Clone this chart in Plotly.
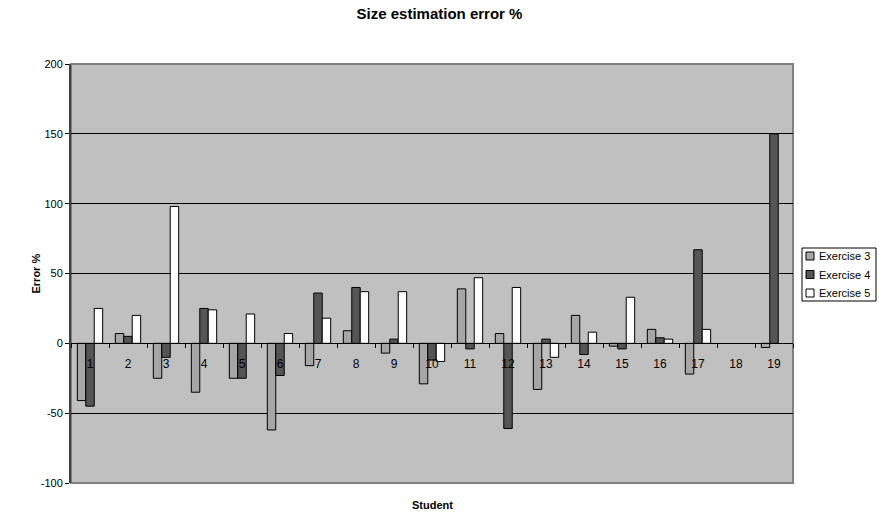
import plotly.graph_objects as go

students = [str(i) for i in range(1, 20)]
exercise_3 = [-41, 7, -25, -35, -25, -62, -16, 9, -7, -29, 39, 7, -33, 20, -2, 10, -22, None, -3]
exercise_4 = [-45, 5, -10, 25, -25, -23, 36, 40, 3, -12, -4, -61, 3, -8, -4, 4, 67, None, 150]
exercise_5 = [25, 20, 98, 24, 21, 7, 18, 37, 37, -13, 47, 40, -10, 8, 33, 3, 10, None, None]

y_ticks = [-100, -50, 0, 50, 100, 150, 200]
y_tick_labels = ["-100", "-50", "0", "50", "100", "150", "200"]

series = [
    ("Exercise 3", exercise_3, "#A6A6A6"),
    ("Exercise 4", exercise_4, "#555555"),
    ("Exercise 5", exercise_5, "#FFFFFF"),
]

y_min, y_max = y_ticks[0], y_ticks[-1]

W, H = 879, 515
ML, MR, MT, MB = 71, 86, 64, 32
plot_w, plot_h = W - ML - MR, H - MT - MB


def px_x(x):
    """Pixel column -> paper x."""
    return (x - ML) / plot_w


def px_y(y):
    """Pixel row -> paper y."""
    return (H - MB - y) / plot_h


fig = go.Figure()
for name, vals, color in series:
    fig.add_trace(go.Bar(
        x=students, y=vals, name=name, showlegend=False,
        marker=dict(color=color, line=dict(color="#000000", width=1)),
    ))

shapes = [dict(type="rect", xref="paper", yref="paper", x0=0, x1=1, y0=0, y1=1,
               line=dict(color="#808080", width=2), layer="below")]
annotations = [
    dict(text="<b>Student</b>", xref="paper", yref="paper",
         x=0.5, y=px_y(505), xanchor="center", yanchor="middle",
         showarrow=False, font=dict(size=11)),
    dict(text="<b>Error %</b>", xref="paper", yref="paper", textangle=-90,
         x=px_x(35), y=0.5, xanchor="center", yanchor="middle",
         showarrow=False, font=dict(size=11)),
]

# compact legend box to the right of the plot area
shapes.append(dict(type="rect", xref="paper", yref="paper",
                   x0=px_x(802), x1=px_x(876), y0=px_y(301), y1=px_y(248),
                   fillcolor="#FFFFFF", line=dict(color="#000000", width=1)))
for i, (name, _, color) in enumerate(series):
    cy = 256 + i * 18.5
    shapes.append(dict(type="rect", xref="paper", yref="paper",
                       x0=px_x(806), x1=px_x(814), y0=px_y(cy + 4), y1=px_y(cy - 4),
                       fillcolor=color, line=dict(color="#000000", width=1)))
    annotations.append(dict(text=name, xref="paper", yref="paper",
                            x=px_x(817), y=px_y(cy), xanchor="left", yanchor="middle",
                            showarrow=False, font=dict(size=11)))

fig.update_layout(
    width=W, height=H,
    margin=dict(l=ML, r=MR, t=MT, b=MB),
    paper_bgcolor="#FFFFFF",
    plot_bgcolor="#C0C0C0",
    font=dict(family="Liberation Sans, Arial, sans-serif", size=11, color="#000000"),
    title=dict(text="<b>Size estimation error %</b>", x=0.5, xref="container",
               xanchor="center", y=1 - 14 / H, yanchor="middle", font=dict(size=15)),
    barmode="group", bargap=0.333, bargroupgap=0,
    showlegend=False,
    xaxis=dict(
        type="category", anchor="free", position=(0 - y_min) / (y_max - y_min),
        showline=True, linecolor="#000000", linewidth=1,
        ticks="outside", ticklen=4, tickcolor="#000000", tickson="boundaries",
        ticklabelstandoff=9,
        showgrid=False, zeroline=False, tickfont=dict(size=12),
    ),
    yaxis=dict(
        range=[y_min, y_max], tickvals=y_ticks, ticktext=y_tick_labels,
        showline=True, linecolor="#404040", linewidth=2,
        ticks="outside", ticklen=4, tickcolor="#000000",
        showgrid=True, gridcolor="#000000", gridwidth=1,
        zeroline=False, tickfont=dict(size=11),
    ),
    shapes=shapes,
    annotations=annotations,
)

fig.write_html("out.html")
